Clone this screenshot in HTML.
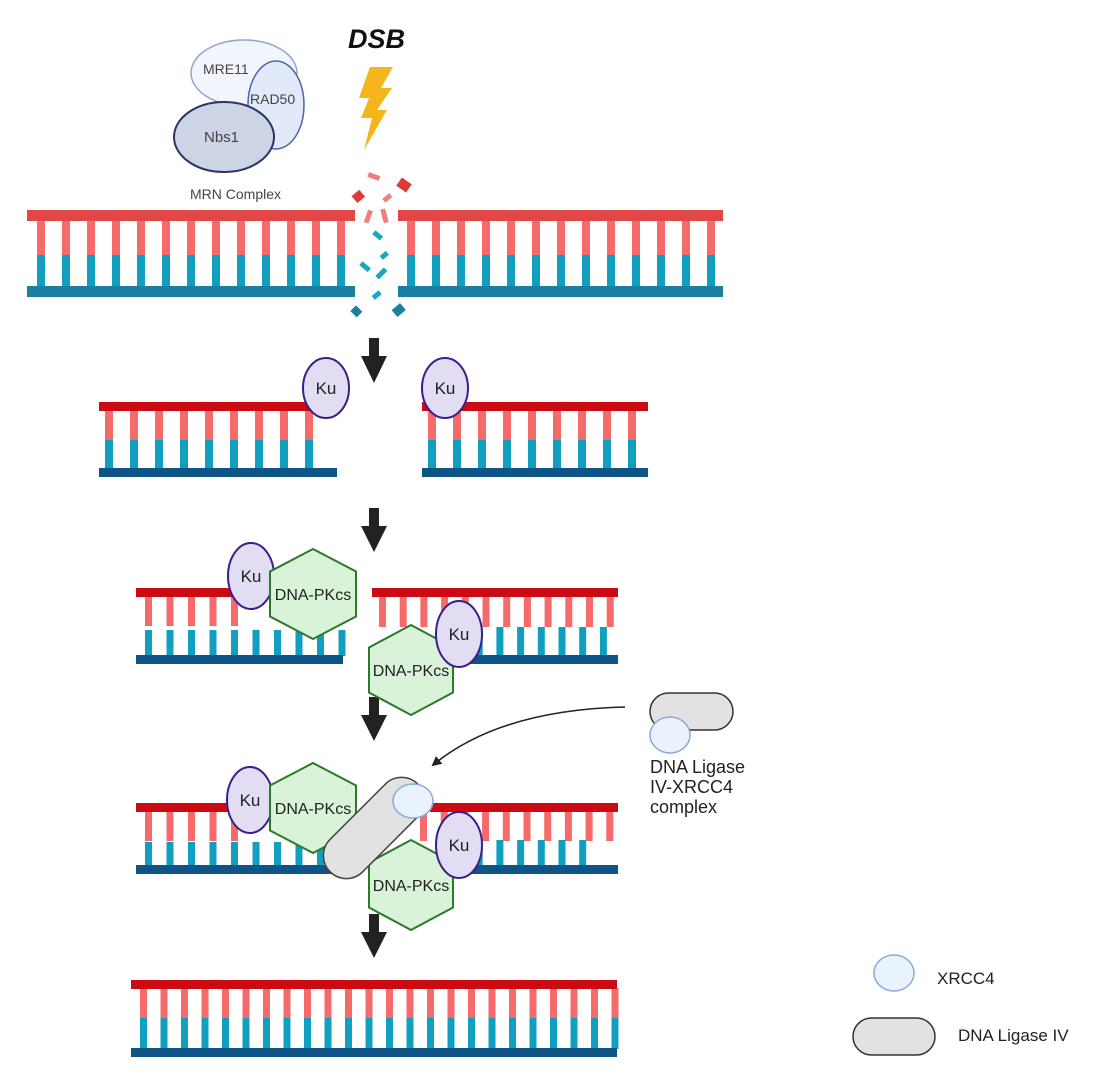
<!DOCTYPE html>
<html><head><meta charset="utf-8"><style>
html,body{margin:0;padding:0;background:#fff}
svg{display:block}
text{font-family:"Liberation Sans",sans-serif}
</style></head><body>
<svg id="s" width="1115" height="1082" viewBox="0 0 1115 1082" xmlns="http://www.w3.org/2000/svg">
<defs>
<marker id="ah" markerWidth="10" markerHeight="10" refX="8" refY="5" orient="auto" markerUnits="userSpaceOnUse"><path d="M0,0 L10,5 L0,10 z" fill="#222"/></marker>
</defs>
<g id="dna"></g>

<!-- MRN -->
<ellipse cx="244" cy="73" rx="53" ry="33" fill="#f3f5fc" stroke="#8fa3cc" stroke-width="1.5"/>
<ellipse cx="276" cy="105" rx="28" ry="44" fill="#e2e9f8" stroke="#4a64a8" stroke-width="1.5"/>
<ellipse cx="224" cy="137" rx="50" ry="35" fill="#cdd4e6" stroke="#2a3566" stroke-width="2"/>
<text x="203" y="74" font-size="14" fill="#444">MRE11</text>
<text x="250" y="104" font-size="14" fill="#444">RAD50</text>
<text x="204" y="142" font-size="15" fill="#444">Nbs1</text>
<text x="190" y="199" font-size="14" fill="#444">MRN Complex</text>
<text x="348" y="48" font-size="27" font-weight="bold" font-style="italic" fill="#111">DSB</text>
<path d="M370,67 L393,67 L381,88 L392,88 L377,110 L387,110 L364,150 L372,118 L361,118 L369,98 L359,98 Z" fill="#f6b51b"/>

<!-- fragments -->
<g>
<rect x="368" y="174" width="12" height="5" fill="#f08080" transform="rotate(20 374 176)"/>
<rect x="398" y="180" width="12" height="10" fill="#dd3a3a" transform="rotate(35 404 185)"/>
<rect x="353" y="192" width="10" height="9" fill="#dd3a3a" transform="rotate(-40 358 196)"/>
<rect x="383" y="195" width="9" height="5" fill="#f08080" transform="rotate(-40 388 198)"/>
<rect x="366" y="210" width="5" height="13" fill="#f08080" transform="rotate(20 368 216)"/>
<rect x="382" y="209" width="5" height="14" fill="#f08080" transform="rotate(-15 384 216)"/>
<rect x="373" y="233" width="10" height="5" fill="#1aa5c0" transform="rotate(40 378 235)"/>
<rect x="380" y="253" width="8" height="5" fill="#1aa5c0" transform="rotate(-40 384 255)"/>
<rect x="360" y="264" width="11" height="5" fill="#1aa5c0" transform="rotate(40 365 266)"/>
<rect x="375" y="271" width="12" height="5" fill="#1aa5c0" transform="rotate(-45 381 273)"/>
<rect x="372" y="293" width="9" height="5" fill="#1aa5c0" transform="rotate(-40 376 295)"/>
<rect x="352" y="307" width="9" height="8" fill="#1a7fa0" transform="rotate(45 356 311)"/>
<rect x="393" y="306" width="11" height="9" fill="#1a7fa0" transform="rotate(-40 398 310)"/>
</g>

<!-- arrows down -->
<g fill="#222">
<rect x="369" y="338" width="10" height="20"/><path d="M361,356 L387,356 L374,383 Z"/>
<rect x="369" y="508" width="10" height="20"/><path d="M361,526 L387,526 L374,552 Z"/>
<rect x="369" y="697" width="10" height="20"/><path d="M361,715 L387,715 L374,741 Z"/>
<rect x="369" y="914" width="10" height="20"/><path d="M361,932 L387,932 L374,958 Z"/>
</g>

<path d="M625,707 Q500,710 433,765" fill="none" stroke="#222" stroke-width="1.5" marker-end="url(#ah)"/>

<rect x="650" y="693" width="83" height="37" rx="18.5" fill="#e2e2e2" stroke="#333" stroke-width="1.5"/>
<ellipse cx="670" cy="735" rx="20" ry="18" fill="#eaf3fd" stroke="#88aadd" stroke-width="1.5"/>
<text font-size="18" fill="#222"><tspan x="650" y="773">DNA Ligase</tspan><tspan x="650" y="793">IV-XRCC4</tspan><tspan x="650" y="813">complex</tspan></text>

<ellipse cx="894" cy="973" rx="20" ry="18" fill="#eaf3fd" stroke="#88aadd" stroke-width="1.5"/>
<text x="937" y="984" font-size="17" fill="#222">XRCC4</text>
<rect x="853" y="1018" width="82" height="37" rx="18.5" fill="#e2e2e2" stroke="#333" stroke-width="1.5"/>
<text x="958" y="1041" font-size="17" fill="#222">DNA Ligase IV</text>

<g id="prot"></g>
</svg>
<script>
var NS="http://www.w3.org/2000/svg",d=document.getElementById('dna'),p=document.getElementById('prot');
function el(par,t,a,txt){var e=document.createElementNS(NS,t);for(var k in a)e.setAttribute(k,a[k]);if(txt)e.textContent=txt;par.appendChild(e);return e;}
function R(x,y,w,h,c){el(d,'rect',{x:x,y:y,width:w,height:h,fill:c});}
// Row1
for(var i=0;i<13;i++){R(37+i*25,219,8,36,'#f56a6a');R(37+i*25,255,8,33,'#119fbf');R(407+i*25,219,8,36,'#f56a6a');R(407+i*25,255,8,33,'#119fbf');}
R(27,210,328,11,'#e04848');R(398,210,325,11,'#e04848');
R(27,286,328,11,'#1a7fa0');R(398,286,325,11,'#1a7fa0');
// Row2
for(var i=0;i<9;i++){R(105+i*25,409,8,31,'#f56a6a');R(105+i*25,440,8,29,'#119fbf');R(428+i*25,409,8,31,'#f56a6a');R(428+i*25,440,8,29,'#119fbf');}
R(99,402,238,9,'#cc0a14');R(422,402,226,9,'#cc0a14');
R(99,468,238,9,'#0e5487');R(422,468,226,9,'#0e5487');
// Row3
for(var i=0;i<5;i++)R(145+i*21.5,596,7,30,'#f56a6a');
for(var i=0;i<10;i++)R(145+i*21.5,630,7,26,'#119fbf');
for(var i=0;i<12;i++)R(379+i*20.7,597,7,30,'#f56a6a');
for(var i=0;i<8;i++)R(455+i*20.7,627,7,30,'#119fbf');
R(136,588,106,9,'#cc0a14');R(136,655,207,9,'#0e5487');
R(372,588,246,9,'#cc0a14');R(470,655,148,9,'#0e5487');
// Row4
for(var i=0;i<5;i++)R(145+i*21.5,811,7,30,'#f56a6a');
for(var i=0;i<10;i++)R(145+i*21.5,842,7,25,'#119fbf');
for(var i=0;i<10;i++)R(420+i*20.7,811,7,30,'#f56a6a');
for(var i=0;i<7;i++)R(455+i*20.7,840,7,27,'#119fbf');
R(136,803,106,9,'#cc0a14');R(136,865,207,9,'#0e5487');
R(430,803,188,9,'#cc0a14');R(470,865,148,9,'#0e5487');
// Row5
for(var i=0;i<24;i++){var x=140+i*20.5;R(x,988,7,30,'#f56a6a');R(x,1018,7,31,'#119fbf');}
R(131,980,486,9,'#cc0a14');R(131,1048,486,9,'#0e5487');

function ku(cx,cy,ry){el(p,'ellipse',{cx:cx,cy:cy,rx:23,ry:ry,fill:'#e3ddf4',stroke:'#3a1e8a','stroke-width':2});el(p,'text',{x:cx,y:cy+6,'font-size':17,'text-anchor':'middle',fill:'#222'},'Ku');}
function hex(cx,cy,w,h){var pts=[[cx,cy-h],[cx+w,cy-h/2],[cx+w,cy+h/2],[cx,cy+h],[cx-w,cy+h/2],[cx-w,cy-h/2]].map(function(a){return a.join(',')}).join(' ');el(p,'polygon',{points:pts,fill:'#d8f3d8',stroke:'#2a7a2a','stroke-width':2});el(p,'text',{x:cx,y:cy+6,'font-size':16,'text-anchor':'middle',fill:'#222'},'DNA-PKcs');}
ku(326,388,30);ku(445,388,30);
ku(251,576,33);hex(313,594,43,45);
hex(411,670,42,45);ku(459,634,33);
ku(250,800,33);hex(313,808,43,45);
hex(411,885,42,45);ku(459,845,33);
el(p,'rect',{x:-62,y:-23,width:124,height:46,rx:23,fill:'#e2e2e2',stroke:'#444','stroke-width':1.5,transform:'translate(374,828) rotate(-45)'});
el(p,'ellipse',{cx:413,cy:801,rx:20,ry:17,fill:'#eaf3fd',stroke:'#88aadd','stroke-width':1.5});
</script>
</body></html>
